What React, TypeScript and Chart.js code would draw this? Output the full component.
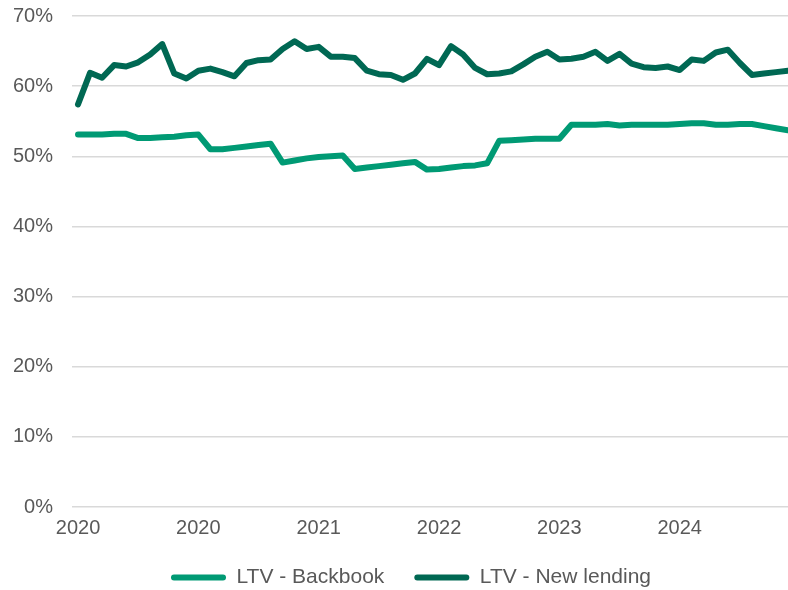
import React, { useEffect, useRef } from "react";
import { Chart, registerables } from "chart.js";

Chart.register(...registerables);

// Monthly observations, Jan 2020 – Dec 2024
const months: string[] = [];
for (let y = 2020; y <= 2024; y++) {
  for (let m = 1; m <= 12; m++) months.push(`${y}-${String(m).padStart(2, "0")}`);
}

const tickIndices = [0, 10, 20, 30, 40, 50];
const tickLabels = ["2020", "2020", "2021", "2022", "2023", "2024"];

const backbook = [
  53.1, 53.1, 53.1, 53.2, 53.2, 52.6, 52.6, 52.7, 52.8, 53.0,
  53.1, 51.0, 51.0, 51.2, 51.4, 51.6, 51.8, 49.1, 49.4, 49.7,
  49.9, 50.0, 50.1, 48.2, 48.4, 48.6, 48.8, 49.0, 49.2, 48.1,
  48.2, 48.4, 48.6, 48.7, 49.0, 52.2, 52.3, 52.4, 52.5, 52.5,
  52.5, 54.5, 54.5, 54.5, 54.6, 54.4, 54.5, 54.5, 54.5, 54.5,
  54.6, 54.7, 54.7, 54.5, 54.5, 54.6, 54.6, 54.3, 54.0, 53.7,
];

const newLending = [
  57.4, 61.9, 61.2, 63.0, 62.8, 63.4, 64.5, 66.0, 61.8, 61.1,
  62.2, 62.5, 62.0, 61.4, 63.3, 63.7, 63.8, 65.3, 66.4, 65.3,
  65.6, 64.2, 64.2, 64.0, 62.2, 61.7, 61.6, 60.9, 61.8, 63.9,
  63.0, 65.7, 64.5, 62.6, 61.7, 61.8, 62.1, 63.1, 64.2, 64.9,
  63.8, 63.9, 64.2, 64.9, 63.6, 64.6, 63.2, 62.7, 62.6, 62.8,
  62.3, 63.8, 63.6, 64.8, 65.2, 63.3, 61.6, 61.8, 62.0, 62.2,
];

const seriesNames = ["LTV - Backbook", "LTV - New lending"];
const seriesColors = ["#009A74", "#006853"];

const FONT = "'Liberation Sans', Arial, sans-serif";
const TEXT = "#595959";

// nudges the centred legend row slightly right, as in the original
const legendShift = {
  id: "legendShift",
  afterLayout(chart: any) {
    const lg = chart.legend;
    if (lg) {
      lg.left += 11;
      lg.right += 11;
    }
  },
};

export default function App() {
  const ref = useRef<HTMLCanvasElement | null>(null);

  useEffect(() => {
    document.body.style.margin = "0";
    const ctx = ref.current!;
    const toPts = (arr: number[]) => arr.map((v, i) => ({ x: i, y: v }));
    const mk = (i: number, arr: number[]) => ({
      label: seriesNames[i],
      data: toPts(arr),
      borderColor: seriesColors[i],
      backgroundColor: seriesColors[i],
      borderWidth: 6,
      pointRadius: 0,
      tension: 0,
      borderCapStyle: "round" as const,
      borderJoinStyle: "round" as const,
    });
    const chart = new Chart(ctx, {
      type: "line",
      data: {
        labels: months,
        datasets: [mk(0, backbook), mk(1, newLending)],
      },
      plugins: [legendShift],
      options: {
        animation: false,
        responsive: true,
        maintainAspectRatio: false,
        layout: { padding: { left: 12, right: 0, top: 0, bottom: -8 } },
        plugins: {
          tooltip: { enabled: false },
          legend: {
            position: "bottom",
            labels: {
              font: { family: FONT, size: 21 },
              color: TEXT,
              boxWidth: 55,
              boxHeight: 6,
              useBorderRadius: true,
              borderRadius: 3,
              padding: 30,
              generateLabels: (c: any) =>
                c.data.datasets.map((d: any, i: number) => ({
                  text: d.label,
                  fillStyle: d.borderColor,
                  strokeStyle: d.borderColor,
                  lineWidth: 0,
                  hidden: false,
                  datasetIndex: i,
                  fontColor: TEXT,
                  borderRadius: 3,
                })),
            },
          },
        },
        scales: {
          x: {
            type: "linear",
            min: -0.5,
            max: 59,
            grid: { display: false, drawTicks: false },
            border: { display: false },
            afterBuildTicks: (axis: any) => {
              axis.ticks = tickIndices.map((v) => ({ value: v }));
            },
            afterFit: (axis: any) => {
              axis.height = 30;
              axis.paddingLeft = 0;
              axis.paddingRight = 0;
            },
            ticks: {
              autoSkip: false,
              maxRotation: 0,
              padding: 9,
              color: TEXT,
              font: { family: FONT, size: 20 },
              callback: (v: any) => {
                const k = tickIndices.indexOf(Number(v));
                return k >= 0 ? tickLabels[k] : "";
              },
            },
          },
          y: {
            min: 0,
            max: 70,
            grid: { color: "#D9D9D9", lineWidth: 1.5, drawTicks: false },
            border: { display: false },
            afterFit: (axis: any) => {
              axis.width = 60;
              axis.paddingTop = 16;
              axis.paddingBottom = 0;
            },
            ticks: {
              stepSize: 10,
              padding: 19,
              color: TEXT,
              font: { family: FONT, size: 20 },
              callback: (v: any) => `${v}%`,
            },
          },
        },
      },
    });
    return () => chart.destroy();
  }, []);

  return (
    <div style={{ position: "absolute", left: 0, top: 0, width: 788, height: 590 }}>
      <canvas ref={ref} />
    </div>
  );
}
